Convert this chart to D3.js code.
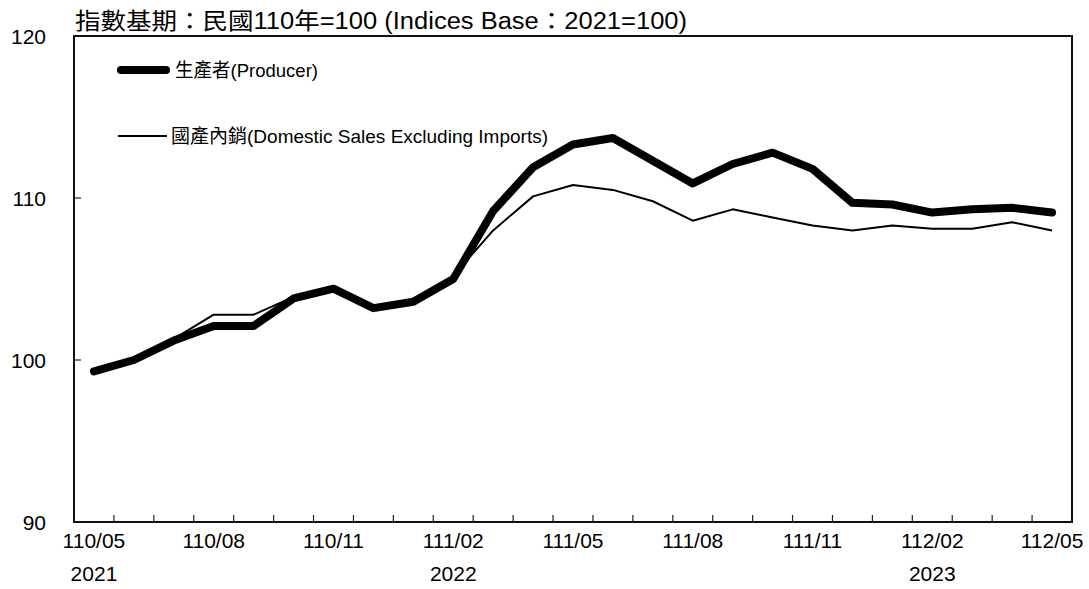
<!DOCTYPE html>
<html>
<head>
<meta charset="utf-8">
<script src="https://cdn.jsdelivr.net/npm/d3@7/dist/d3.min.js"></script>
<style>
  html, body { margin: 0; padding: 0; background: #fff; }
  svg { display: block; }
  text { font-family: "Liberation Sans", Arial, "Noto Sans CJK TC", sans-serif; fill: #000; }
</style>
</head>
<body>
<svg id="chart" width="1089" height="589"></svg>
<script>
const months = ["110/05","110/06","110/07","110/08","110/09","110/10","110/11","110/12",
  "111/01","111/02","111/03","111/04","111/05","111/06","111/07","111/08","111/09","111/10",
  "111/11","111/12","112/01","112/02","112/03","112/04","112/05"];
const labelMonths = ["110/05","110/08","110/11","111/02","111/05","111/08","111/11","112/02","112/05"];
const yearLabels = [["110/05","2021"],["111/02","2022"],["112/02","2023"]];
const producer = [99.3,100.0,101.2,102.1,102.1,103.8,104.4,103.2,103.6,105.0,109.2,111.9,
  113.3,113.7,112.3,110.9,112.1,112.8,111.8,109.7,109.6,109.1,109.3,109.4,109.1];
const domestic = [99.3,100.0,101.3,102.8,102.8,103.9,104.4,103.2,103.6,105.2,108.0,110.1,
  110.8,110.5,109.8,108.6,109.3,108.8,108.3,108.0,108.3,108.1,108.1,108.5,108.0];
const yTicks = [90,100,110,120];
const seriesNames = ["生產者(Producer)","國產內銷(Domestic Sales Excluding Imports)"];
const titleText = "指數基期：民國110年=100 (Indices Base：2021=100)";

const svg = d3.select("#chart");
const L = 74, R = 1072, T = 36, B = 522;
const x = d3.scaleBand().domain(months).range([L, R]);
const bw = x.bandwidth();
const cx = m => x(m) + bw / 2;
const y = d3.scaleLinear().domain([90, 120]).range([B, T]);

// y tick labels
svg.append("g").selectAll("text").data(yTicks).join("text")
  .attr("x", 46).attr("y", d => y(d)).attr("dy", "0.36em")
  .attr("text-anchor", "end").style("font-size", "21px").text(d => d);

// y ticks (inward)
svg.append("g").selectAll("line").data(yTicks.slice(1, -1)).join("line")
  .attr("x1", L).attr("x2", L + 7).attr("y1", d => y(d)).attr("y2", d => y(d))
  .attr("stroke", "#222").attr("stroke-width", 1.2);

// x ticks between categories (inward)
svg.append("g").selectAll("line").data(months.slice(1)).join("line")
  .attr("x1", d => x(d)).attr("x2", d => x(d)).attr("y1", B).attr("y2", B - 7)
  .attr("stroke", "#222").attr("stroke-width", 1.2);

// x labels
svg.append("g").selectAll("text").data(labelMonths).join("text")
  .attr("x", d => cx(d)).attr("y", 548).attr("text-anchor", "middle")
  .style("font-size", "21px").text(d => d);
svg.append("g").selectAll("text").data(yearLabels).join("text")
  .attr("x", d => cx(d[0])).attr("y", 581).attr("text-anchor", "middle")
  .style("font-size", "21px").text(d => d[1]);

// border
svg.append("rect").attr("x", L).attr("y", T).attr("width", R - L).attr("height", B - T)
  .attr("fill", "none").attr("stroke", "#111").attr("stroke-width", 2);

// lines
const line = d3.line().x((d, i) => cx(months[i])).y(d => y(d));
svg.append("path").datum(domestic).attr("d", line)
  .attr("fill", "none").attr("stroke", "#000").attr("stroke-width", 2)
  .attr("stroke-linejoin", "round");
svg.append("path").datum(producer).attr("d", line)
  .attr("fill", "none").attr("stroke", "#000").attr("stroke-width", 8)
  .attr("stroke-linejoin", "round").attr("stroke-linecap", "round");

// legend
svg.append("line").attr("x1", 121).attr("x2", 166).attr("y1", 70).attr("y2", 70)
  .attr("stroke", "#000").attr("stroke-width", 8).attr("stroke-linecap", "round");
svg.append("text").attr("x", 175).attr("y", 77).style("font-size", "19px")
  .attr("textLength", 143).attr("lengthAdjust", "spacingAndGlyphs").text(seriesNames[0]);
svg.append("line").attr("x1", 118).attr("x2", 167).attr("y1", 136).attr("y2", 136)
  .attr("stroke", "#000").attr("stroke-width", 2);
svg.append("text").attr("x", 171).attr("y", 143).style("font-size", "19px")
  .attr("textLength", 377).attr("lengthAdjust", "spacingAndGlyphs").text(seriesNames[1]);

// title
svg.append("text").attr("x", 75).attr("y", 29).style("font-size", "23px")
  .attr("textLength", 612).attr("lengthAdjust", "spacingAndGlyphs")
  .text(titleText);
</script>
</body>
</html>
